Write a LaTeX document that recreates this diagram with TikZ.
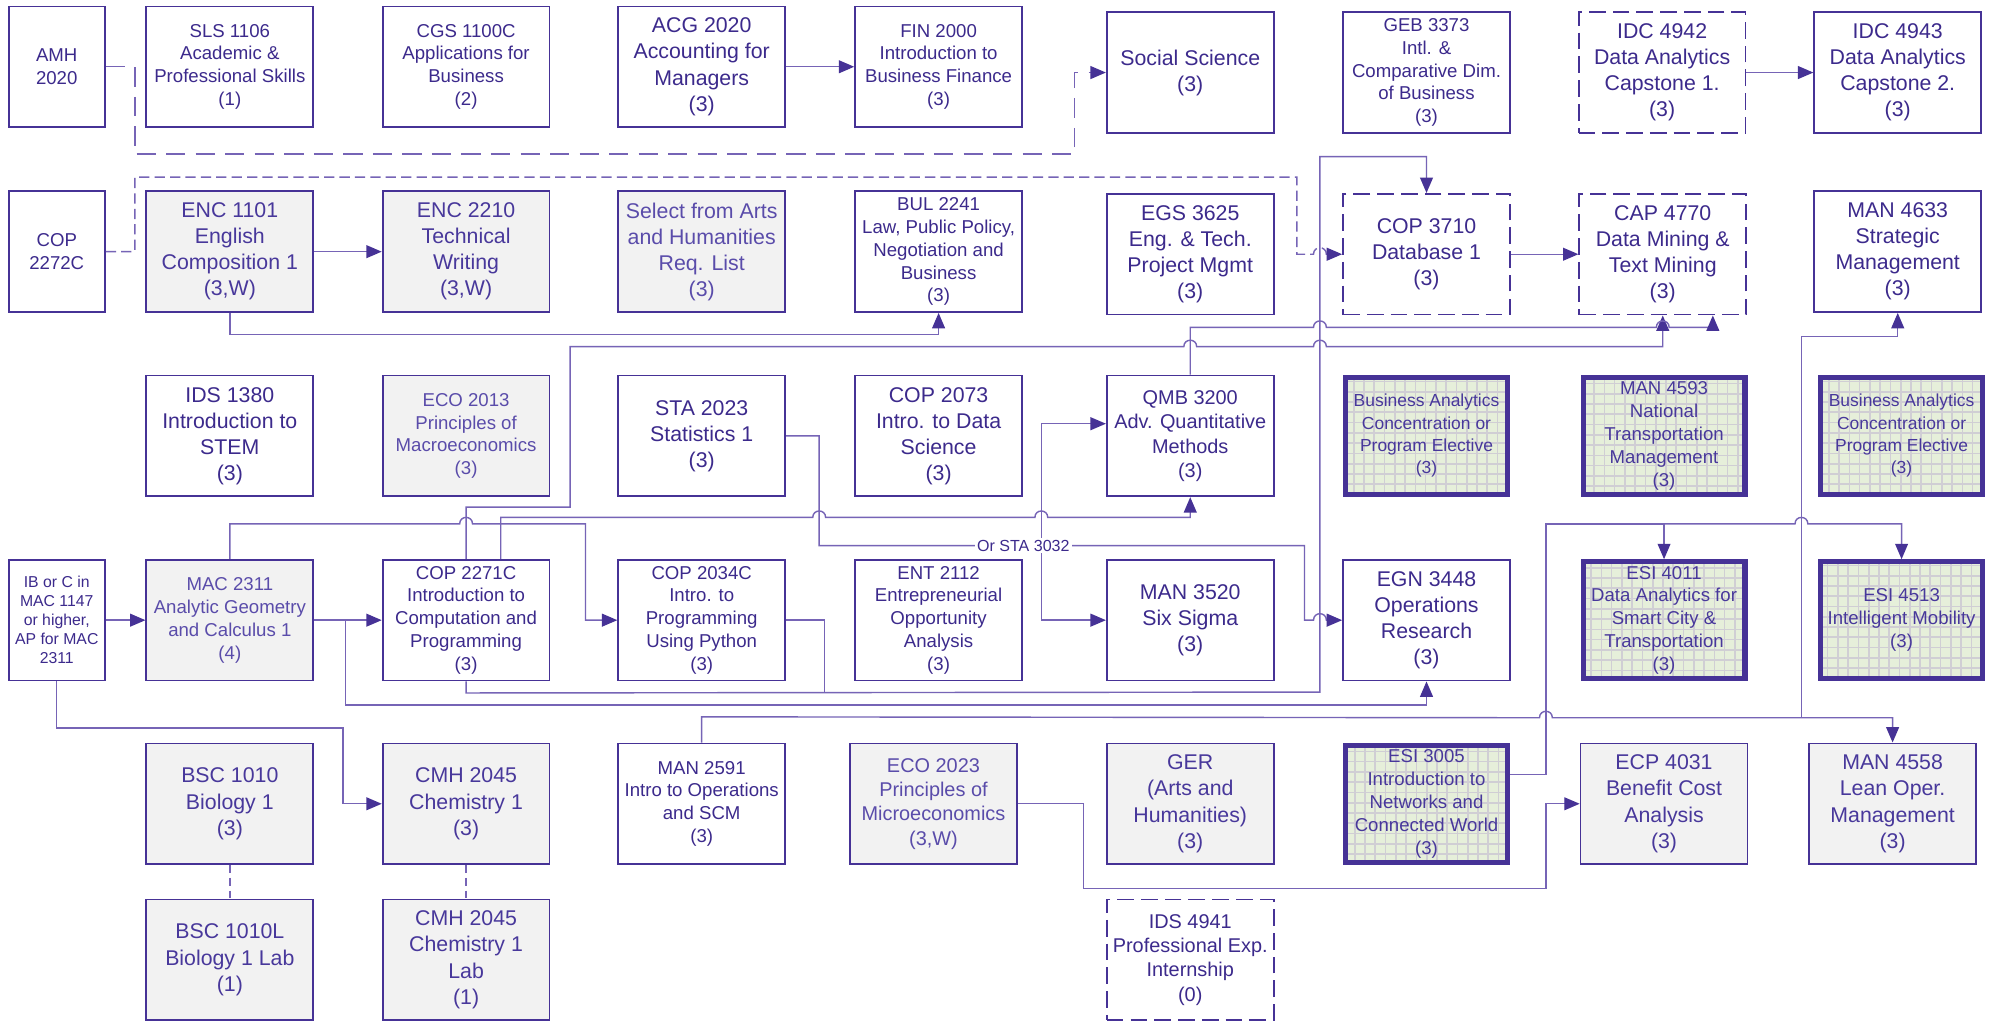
\documentclass[tikz,border=0pt]{standalone}
\usepackage{fontspec}
\setmainfont{Liberation Sans}
\usetikzlibrary{arrows.meta}
\definecolor{boxc}{RGB}{70,50,150}
\definecolor{linec}{RGB}{118,100,182}
\definecolor{txtc}{RGB}{60,42,140}
\definecolor{txtg}{RGB}{72,56,155}
\definecolor{txtl}{RGB}{90,76,170}
\definecolor{greyf}{RGB}{242,242,242}
\definecolor{greenf}{RGB}{230,239,218}
\definecolor{gridc}{RGB}{208,206,212}
\newcommand{\FSm}{\fontsize{14.5}{17.8}\selectfont}
\newcommand{\FLg}{\fontsize{16.6}{20.3}\selectfont}
\newcommand{\FMd}{\fontsize{15.5}{19}\selectfont}
\newcommand{\FXs}{\fontsize{12.3}{14.8}\selectfont}
\newcommand{\FBa}{\fontsize{13.6}{17.4}\selectfont}
\newcommand{\FLb}{\fontsize{12.5}{14}\selectfont}
\newcommand{\jmp}[2]{-- ({#1-5},#2) .. controls ({#1-5},{#2-6.7}) and ({#1+5},{#2-6.7}) .. ({#1+5},#2)}
\begin{document}
\begin{tikzpicture}[x=1pt,y=-1pt,
  course/.style={draw=boxc,line width=1.4pt,minimum width=130pt,minimum height=94pt,inner sep=0pt,align=center,text=txtc,font=\FSm},
  lg/.style={font=\FLg},
  md/.style={font=\FMd},
  narrowbox/.style={course,minimum width=75pt},
  greybox/.style={course,fill=greyf,text=txtg},
  lighttext/.style={text=txtl},
  dashbox/.style={course,dash pattern=on 13pt off 5.5pt},
  gbox/.style={course,line width=4pt,fill=greenf,text=txtg,minimum width=126pt,minimum height=91pt,
     path picture={\draw[gridc,line width=1.3pt] (path picture bounding box.south west) grid[step=8pt] (path picture bounding box.north east);}},
  conn/.style={draw=linec,line width=1.1pt},
  tip/.style={-{Triangle[length=12pt,width=10pt,color=boxc]}},
  arr/.style={conn,tip},
  lbl/.style={fill=white,text=txtc,font=\FLb,inner sep=1.5pt}
]
\useasboundingbox (0,0) rectangle (1560,795);
\fill[white] (0,0) rectangle (1560,795);

% Row 0
\node[narrowbox] (amh) at (44.2,52) {AMH\\2020};
\node[course] (sls) at (179,52) {SLS 1106\\Academic \&\\Professional Skills\\(1)};
\node[course] (cgs) at (363,52) {CGS 1100C\\Applications for\\Business\\(2)};
\node[course,lg] (acg) at (546.5,52) {ACG 2020\\Accounting for\\Managers\\(3)};
\node[course] (fin) at (731,52) {FIN 2000\\Introduction to\\Business Finance\\(3)};
\node[course,lg] (soc) at (927,56.5) {Social Science\\(3)};
\node[course] (geb) at (1111,56.5) {GEB 3373\\Intl. \&\\Comparative Dim.\\of Business\\(3)};
\node[dashbox,lg] (idc42) at (1294.5,56.5) {IDC 4942\\Data Analytics\\Capstone 1.\\(3)};
\node[course,lg] (idc43) at (1478,56.5) {IDC 4943\\Data Analytics\\Capstone 2.\\(3)};

% Row 1
\node[narrowbox] (cop72) at (44.2,196) {COP\\2272C};
\node[greybox,lg] (enc1) at (179,196) {ENC 1101\\English\\Composition 1\\(3,W)};
\node[greybox,lg] (enc2) at (363,196) {ENC 2210\\Technical\\Writing\\(3,W)};
\node[greybox,lg,lighttext] (sel) at (546.5,196) {Select from Arts\\and Humanities\\Req. List\\(3)};
\node[course] (bul) at (731,196) {BUL 2241\\Law, Public Policy,\\Negotiation and\\Business\\(3)};
\node[course,lg] (egs) at (927,198) {EGS 3625\\Eng. \& Tech.\\Project Mgmt\\(3)};
\node[dashbox,lg] (db1) at (1111,198) {COP 3710\\Database 1\\(3)};
\node[dashbox,lg] (cap) at (1295,198) {CAP 4770\\Data Mining \&\\Text Mining\\(3)};
\node[course,lg] (man33) at (1478,196) {MAN 4633\\Strategic\\Management\\(3)};

% Row 2
\node[course,lg] (ids80) at (179,339.5) {IDS 1380\\Introduction to\\STEM\\(3)};
\node[greybox,lighttext] (eco13) at (363,339.5) {ECO 2013\\Principles of\\Macroeconomics\\(3)};
\node[course,lg] (sta) at (546.5,339.5) {STA 2023\\Statistics 1\\(3)};
\node[course,lg] (cop73) at (731,339.5) {COP 2073\\Intro. to Data\\Science\\(3)};
\node[course,md] (qmb) at (927,339.5) {QMB 3200\\Adv. Quantitative\\Methods\\(3)};
\node[gbox,font=\FBa] (ba1) at (1111,339.5) {Business Analytics\\Concentration or\\Program Elective\\(3)};
\node[gbox] (man93) at (1296,339.5) {MAN 4593\\National\\Transportation\\Management\\(3)};
\node[gbox,font=\FBa] (ba2) at (1481,339.5) {Business Analytics\\Concentration or\\Program Elective\\(3)};

% Row 3
\node[narrowbox,font=\FXs] (ib) at (44.2,483) {IB or C in\\MAC 1147\\or higher,\\AP for MAC\\2311};
\node[greybox,lighttext] (mac) at (179,483) {MAC 2311\\Analytic Geometry\\and Calculus 1\\(4)};
\node[course] (c71) at (363,483) {COP 2271C\\Introduction to\\Computation and\\Programming\\(3)};
\node[course] (c34) at (546.5,483) {COP 2034C\\Intro. to\\Programming\\Using Python\\(3)};
\node[course] (ent) at (731,483) {ENT 2112\\Entrepreneurial\\Opportunity\\Analysis\\(3)};
\node[course,lg] (m20) at (927,483) {MAN 3520\\Six Sigma\\(3)};
\node[course,lg] (egn) at (1111,483) {EGN 3448\\Operations\\Research\\(3)};
\node[gbox] (e11) at (1296,483) {ESI 4011\\Data Analytics for\\Smart City \&\\Transportation\\(3)};
\node[gbox] (e13) at (1481,483) {ESI 4513\\Intelligent Mobility\\(3)};

% Row 4
\node[greybox,lg] (bsc) at (179,626) {BSC 1010\\Biology 1\\(3)};
\node[greybox,lg] (cmh) at (363,626) {CMH 2045\\Chemistry 1\\(3)};
\node[course] (m91) at (546.5,626) {MAN 2591\\Intro to Operations\\and SCM\\(3)};
\node[greybox,md,lighttext] (eco23) at (727,626) {ECO 2023\\Principles of\\Microeconomics\\(3,W)};
\node[greybox,lg] (ger) at (927,626) {GER\\(Arts and\\Humanities)\\(3)};
\node[gbox] (e05) at (1111,626) {ESI 3005\\Introduction to\\Networks and\\Connected World\\(3)};
\node[greybox,lg] (ecp) at (1296,626) {ECP 4031\\Benefit Cost\\Analysis\\(3)};
\node[greybox,lg] (m58) at (1474,626) {MAN 4558\\Lean Oper.\\Management\\(3)};

% Row 5
\node[greybox,lg] (bscl) at (179,747.5) {BSC 1010L\\Biology 1 Lab\\(1)};
\node[greybox,lg] (cmhl) at (363,747.5) {CMH 2045\\Chemistry 1\\Lab\\(1)};
\node[dashbox,md] (ids41) at (927,747.5) {IDS 4941\\Professional Exp.\\Internship\\(0)};

% Connectors
\draw[conn,tip,dash pattern=on 15pt off 8pt] (amh.east) -- (105,52) -- (105,120) -- (837,120) |- (soc.west);
\draw[conn,tip,dash pattern=on 8pt off 4pt] (cop72.east) -- (105,196) -- (105,138) -- (1010,138) -- (1010,198) \jmp{1028}{198} -- (db1.west);
\draw[arr] (enc1.east) -- (enc2.west);
\draw[arr] (enc1.south) -- ++(0,17) -| (bul.south);
\draw[arr] (acg.east) -- (fin.west);
\draw[arr] (idc42.east) -- (idc43.west);
\draw[arr] (db1.east) -- (cap.west);
\draw[arr] (c71.south) -- ++(0,9) -- (1028,539) -- (1028,122) -| (db1.north);
\draw[conn] (c34.east) -- (642,483) -- (642,539);
\draw[arr] (mac.east) -- (c71.west);
\coordinate (jm) at (269,483);
\draw[arr] (jm) -- (269,549) -| (egn.south);
\draw[arr] (ib.east) -- (mac.west);
\draw[arr] (ib.south) |- (267,567) -- (267,626) -- (cmh.west);
\draw[conn,dash pattern=on 6pt off 4pt] (bsc.south) -- (bscl.north);
\draw[conn,dash pattern=on 6pt off 4pt] (cmh.south) -- (cmhl.north);
\draw[arr] (c71.north) -- (363,395) -- (444,395) -- (444,270) \jmp{927}{270} \jmp{1028}{270} -| (cap.south);
\draw[arr] ([xshift=27pt]c71.north) -- (390,403) \jmp{638}{403} \jmp{811}{403} -| (qmb.south);
\draw[arr] (mac.north) -- (179,408) \jmp{363}{408} -- (456,408) |- (c34.west);
\draw[arr] (qmb.north) -- (927,255) \jmp{1028}{255} \jmp{1295}{255} -| ([xshift=39pt]cap.south);
\draw[arr] (sta.east) -| (638,425) -- (1016,425) -- (1016,483) \jmp{1028}{483} -- (egn.west);
\coordinate (jq) at (811,425);
\coordinate (jqt) at (811,330);
\draw[arr] (jq) -- (jqt) -- (jqt -| qmb.west);
\draw[arr] (jq) |- (m20.west);
\draw[arr] ([yshift=23pt]e05.east) -- (1204,603) -- (1204,408) -| (e11.north);
\draw[arr] (1296,408) \jmp{1403}{408} -| (e13.north);
\draw[arr] (m91.north) -- ++(0,-20) \jmp{1204}{559} -| (m58.north);
\draw[arr] (1403,559) -- (1403,262) -| (man33.south);
\draw[arr] (eco23.east) -- (844,626) -- (844,692) -- (1204,692) |- (ecp.west);
\node[lbl] (osta) at (797,425) {Or STA 3032};
\end{tikzpicture}
\end{document}
